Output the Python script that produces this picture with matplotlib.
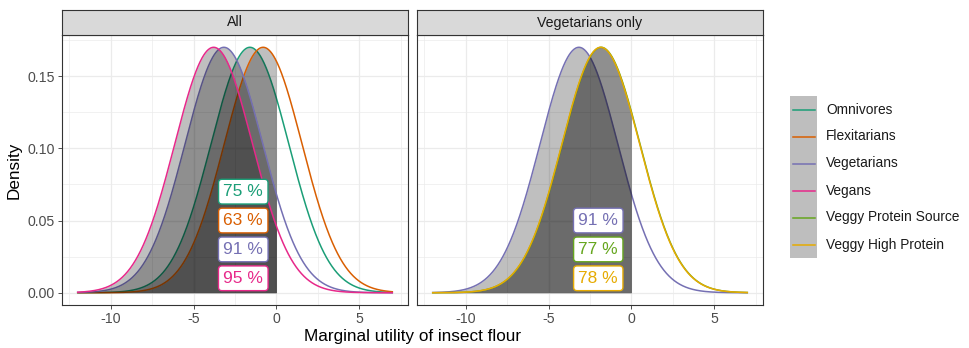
#! /usr/bin/env python3
import numpy as np
import matplotlib
matplotlib.use('agg')
import matplotlib.pyplot as plt
from matplotlib.patches import Rectangle
from matplotlib.ticker import MultipleLocator

plt.rcParams['font.family'] = ['Liberation Sans', 'DejaVu Sans']

# Data: normal distributions of marginal utility (mean, common sd)
groups = ["Omnivores", "Flexitarians", "Vegetarians", "Vegans",
		  "Veggy Protein Source", "Veggy High Protein"]
colors = ["#1B9E77", "#D95F02", "#7570B3", "#E7298A", "#66A61E", "#E6AB02"]
means = [-1.60, -0.80, -3.17, -3.79, -1.83, -1.85]
sd = 2.347
shares = ["75 %", "63 %", "91 %", "95 %", "77 %", "78 %"]

panel_all = ["Omnivores", "Flexitarians", "Vegetarians", "Vegans"]
panel_veg = ["Vegetarians", "Veggy Protein Source", "Veggy High Protein"]
label_y_all = [0.07, 0.05, 0.03, 0.01]
label_y_veg = [0.05, 0.03, 0.01]
label_x = -2.0
x_range = (-12, 7)

W, H = 969, 348
fig = plt.figure(figsize=(W/100, H/100), dpi=100)

def px_axes(l, t, r, b):
	return fig.add_axes([l/W, 1-b/H, (r-l)/W, (b-t)/H])

def density(m, x):
	return np.exp(-0.5*((x-m)/sd)**2)/(sd*np.sqrt(2*np.pi))

x = np.linspace(x_range[0], x_range[1], 600)

def draw_panel(ax, members, label_ys, left):
	ax.set_facecolor('white')
	z = 2
	for g in members:
		i = groups.index(g)
		y = density(means[i], x)
		xm = x <= 0
		xf = np.append(x[xm], 0.0)
		yf = np.append(y[xm], density(means[i], 0.0))
		ax.fill_between(xf, 0, yf, color='black', alpha=0.25, lw=0, zorder=z)
		ax.plot(x, y, color=colors[i], lw=1.1, zorder=z+0.5)
		z += 1
	for g, ly in zip(members, label_ys):
		i = groups.index(g)
		ax.text(label_x, ly, shares[i], color=colors[i], fontsize=12.5,
				ha='center', va='center', zorder=20,
				bbox=dict(boxstyle='round,pad=0.28,rounding_size=0.2',
						  fc='white', ec=colors[i], lw=1.0))
	ax.set_xlim(-12.95, 7.95)
	ax.set_ylim(-0.0085, 0.1785)
	ax.xaxis.set_major_locator(MultipleLocator(5))
	ax.xaxis.set_minor_locator(MultipleLocator(2.5))
	ax.yaxis.set_major_locator(MultipleLocator(0.05))
	ax.yaxis.set_minor_locator(MultipleLocator(0.025))
	ax.grid(which='major', color='#EBEBEB', lw=0.9, zorder=0)
	ax.grid(which='minor', color='#EBEBEB', lw=0.5, zorder=0)
	ax.set_axisbelow(True)
	ax.tick_params(which='major', length=3, width=0.6, color='#333333',
				   labelsize=10.2, labelcolor='#4D4D4D', pad=2)
	ax.tick_params(which='minor', length=0)
	ax.xaxis.set_major_formatter(plt.FuncFormatter(lambda v, p: '%d' % v))
	if left:
		ax.yaxis.set_major_formatter(plt.FuncFormatter(lambda v, p: '%.2f' % v))
	else:
		ax.tick_params(axis='y', which='both', left=False, labelleft=False)
	for s in ax.spines.values():
		s.set_color('#333333')
		s.set_linewidth(0.8)

ax1 = px_axes(62, 35, 408, 305)
ax2 = px_axes(417, 35, 763, 305)
draw_panel(ax1, panel_all, label_y_all, True)
draw_panel(ax2, panel_veg, label_y_veg, False)

# Strips
for (l, r), title in [((62, 408), "All"), ((417, 763), "Vegetarians only")]:
	st = px_axes(l, 10, r, 35)
	st.set_facecolor('#D9D9D9')
	st.set_xticks([])
	st.set_yticks([])
	for s in st.spines.values():
		s.set_color('#333333')
		s.set_linewidth(0.8)
	st.text(0.5, 0.5, title, ha='center', va='center', fontsize=10.2,
			color='#1A1A1A', transform=st.transAxes)

ax1.set_ylabel("Density", fontsize=12.3, labelpad=4)
fig.text((62+763)/2/W, 1-336/H, "Marginal utility of insect flour",
		 ha='center', va='center', fontsize=12.3)

# Legend
leg = px_axes(785, 90, 969, 265)
leg.set_xlim(785, 969)
leg.set_ylim(265, 90)
leg.axis('off')
key_top = 96
key_h = 27
for k, g in enumerate(groups):
	yt = key_top + k*key_h
	leg.add_patch(Rectangle((790, yt), 27, key_h, fc='#BEBEBE', ec='none'))
	leg.plot([792.5, 814.5], [yt+key_h/2]*2, color=colors[k], lw=1.1)
	leg.text(826, yt+key_h/2, g, ha='left', va='center', fontsize=9.9, color='#1A1A1A')

fig.savefig("out.png", dpi=100)
